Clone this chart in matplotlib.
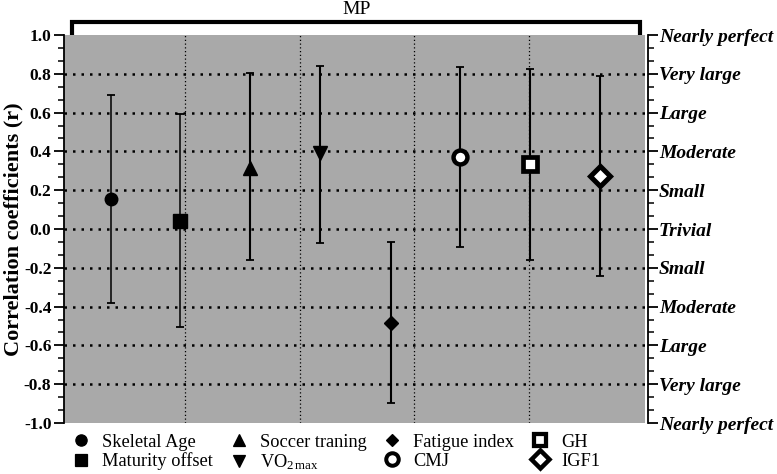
import matplotlib
matplotlib.use("Agg")
import matplotlib.pyplot as plt
from matplotlib.ticker import MultipleLocator, FixedLocator
from matplotlib.lines import Line2D

plt.rcParams['font.family'] = ['Liberation Serif', 'DejaVu Serif']
plt.rcParams['mathtext.fontset'] = 'custom'
plt.rcParams['mathtext.rm'] = 'Liberation Serif'
plt.rcParams['mathtext.it'] = 'Liberation Serif:italic'

# ---- data ----
variables = ["Skeletal Age", "Maturity offset", "Soccer traning", r"VO$_{2\,\mathrm{max}}$",
             "Fatigue index", "CMJ", "GH", "IGF1"]
r_values = [0.153, 0.041, 0.313, 0.393, -0.483, 0.373, 0.333, 0.275]
ci_upper = [0.689, 0.591, 0.806, 0.842, -0.067, 0.833, 0.823, 0.789]
ci_lower = [-0.380, -0.507, -0.160, -0.070, -0.899, -0.091, -0.160, -0.242]
x_positions = [0.355, 0.956, 1.567, 2.177, 2.796, 3.398, 4.008, 4.618]
dividers = [1, 2, 3, 4]
y_ticks = [-1.0, -0.8, -0.6, -0.4, -0.2, 0.0, 0.2, 0.4, 0.6, 0.8, 1.0]
y_tick_labels = ["-1.0", "-0.8", "-0.6", "-0.4", "-0.2", "0.0", "0.2", "0.4", "0.6", "0.8", "1.0"]
magnitude_labels = ["Nearly perfect", "Very large", "Large", "Moderate", "Small", "Trivial",
                    "Small", "Moderate", "Large", "Very large", "Nearly perfect"]
group_label = "MP"

# marker styles
markers = ['o', 's', '^', 'v', 'D', 'o', 's', 'D']
sizes = [9, 10, 10, 10, 7, 10, 10, 10]
faces = ['black', 'black', 'black', 'black', 'black', 'white', 'white', 'white']
edgew = [1, 1, 1, 1, 1, 3.2, 3.4, 3.6]
lw_err = [1.1, 1.1, 1.5, 1.5, 1.5, 1.5, 1.5, 1.5]

fig = plt.figure(figsize=(7.77, 4.74), dpi=100)
ax = fig.add_axes([64/777, 1-423/474, (645-64)/777, (423-35)/474])
ax.set_facecolor('#a9a9a9')
ax.set_xlim(-0.055, 5.011)
ax.set_ylim(-1.0, 1.0)

# grid
for yv in y_ticks[1:-1]:
    ax.axhline(yv, color='black', lw=1.8, ls=(0, (1, 2.4)), zorder=1)
for xv in dividers:
    ax.axvline(xv, color='black', lw=0.9, ls=(0, (1, 2)), zorder=1)

handles = []
for i in range(len(variables)):
    y = r_values[i]
    err = [[y - ci_lower[i]], [ci_upper[i] - y]]
    ax.errorbar([x_positions[i]], [y], yerr=err, fmt='none', ecolor='black',
                elinewidth=lw_err[i], capsize=3, capthick=1.3, zorder=3)
    ax.plot([x_positions[i]], [y], marker=markers[i], ms=sizes[i], mfc=faces[i],
            mec='black', mew=edgew[i], ls='none', zorder=4)
    handles.append(Line2D([], [], marker=markers[i], ms=sizes[i] * 0.9, mfc=faces[i],
                          mec='black', mew=edgew[i] * 0.9, ls='none'))

ax.set_xticks([])
for s in ['top', 'bottom', 'right']:
    ax.spines[s].set_visible(False)
ax.spines['left'].set_linewidth(1.3)
ax.yaxis.set_major_locator(FixedLocator(y_ticks))
ax.set_yticklabels(y_tick_labels, fontsize=12.5, fontweight='bold')
ax.yaxis.set_minor_locator(MultipleLocator(0.2 / 3))
ax.tick_params(axis='y', which='major', length=7, width=1.3, pad=2)
ax.tick_params(axis='y', which='minor', length=4, width=1.1)
ax.set_ylabel("Correlation coefficients (r)", fontsize=16, fontweight='bold', labelpad=0)

# right axis
ax2 = ax.twinx()
ax2.set_ylim(-1.0, 1.0)
for s in ['top', 'bottom', 'left']:
    ax2.spines[s].set_visible(False)
ax2.spines['right'].set_position(('outward', 2))
ax2.spines['right'].set_linewidth(1.3)
ax2.yaxis.set_major_locator(FixedLocator(y_ticks))
ax2.set_yticklabels(magnitude_labels, fontsize=14, fontweight='bold', style='italic')
ax2.yaxis.set_minor_locator(MultipleLocator(0.2 / 3))
ax2.tick_params(axis='y', which='major', length=7, width=1.3, pad=1)
ax2.tick_params(axis='y', which='minor', length=4, width=1.1)

# top bracket
bx0, bx1 = 72 / 777, 640 / 777
by_top, by_bot = 1 - 22 / 474, 1 - 35 / 474
fig.add_artist(Line2D([bx0, bx0, bx1, bx1], [by_bot, by_top, by_top, by_bot],
                      color='black', lw=3, transform=fig.transFigure,
                      solid_joinstyle='miter', solid_capstyle='butt'))
fig.text(357 / 777, 1 - 10 / 474, group_label, ha='center', va='center', fontsize=14)

leg = fig.legend(handles, variables, ncol=4, loc='center', bbox_to_anchor=(335 / 777, 1 - 453 / 474),
                 frameon=False, fontsize=13.2, handlelength=1.2, handletextpad=0.55,
                 columnspacing=0.8, labelspacing=0.1, borderpad=0)

fig.savefig("out.png", dpi=100)
